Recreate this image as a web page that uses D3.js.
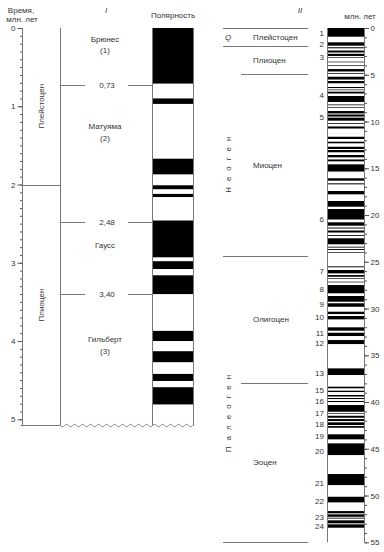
<!DOCTYPE html>
<html>
<head>
<meta charset="utf-8">
<script src="https://cdn.jsdelivr.net/npm/d3@7"></script>
<style>
  body { margin: 0; background: #fff; }
  text { font-family: "Liberation Sans", Arial, sans-serif; fill: #333; font-size: 8px; }
</style>
</head>
<body>
<script>
// ---- I: last 5 Ma, normal polarity intervals (black) ----
const leftNormStart = [0, 0.90, 1.67, 2.01, 2.12, 2.46, 2.98, 3.16, 3.87, 4.13, 4.42, 4.59];
const leftNormEnd   = [0.71, 0.97, 1.87, 2.06, 2.16, 2.93, 3.08, 3.40, 4.00, 4.27, 4.51, 4.81];
const leftBottom = 5.08;

const epochBounds = [0.73, 2.48, 3.40];
const epochBoundLabels = ["0,73", "2,48", "3,40"];
const epochNames = ["Брюнес", "Матуяма", "Гаусс", "Гильберт"];
const epochNums  = ["(1)", "(2)", "", "(3)"];
const epochNameAt = [0.14, 1.26, 2.77, 3.98];

const stages = ["Плейстоцен", "Плиоцен"];
const stageFrom = [0, 2];
const stageTo = [2, leftBottom];

// ---- II: 0-55 Ma, normal polarity intervals (black) ----
const rightNormStart = [
  0.00, 1.53, 2.06, 2.41, 2.76, 3.13, 3.60, 3.96, 4.39, 4.81, 5.21, 5.67, 6.31, 6.58, 6.81, 7.27, 8.18, 8.45, 8.88, 9.25, 9.59, 10.16, 10.53,
  11.63, 12.16, 12.70, 13.05, 13.58, 14.06, 14.58, 16.07, 16.61, 17.43, 18.50, 19.36, 20.78, 21.34, 21.66, 22.14, 22.49, 23.39, 23.64, 23.99,
  25.49, 25.88, 26.42, 26.77, 27.13, 27.49, 28.66, 29.44, 30.34, 30.80, 32.01, 32.59, 33.37, 36.40, 38.36, 38.79, 39.25,
  39.57, 39.89, 40.32, 41.21, 41.47, 41.82, 42.17, 42.57, 43.45, 44.42, 47.70, 50.13, 51.66, 52.01, 52.37, 52.65, 53.08
];
const rightNormEnd = [
  0.93, 1.89, 2.17, 2.62, 2.99, 3.20, 3.67, 4.03, 4.65, 4.89, 5.51, 5.91, 6.42, 6.65, 7.00, 7.91, 8.26, 8.52, 9.14, 9.47, 9.91, 10.24, 10.75,
  11.87, 12.33, 12.94, 13.29, 13.83, 14.26, 15.35, 16.33, 16.72, 17.79, 19.11, 20.48, 21.14, 21.44, 21.87, 22.23, 23.13, 23.48, 23.74, 24.06,
  25.59, 26.24, 26.60, 26.84, 27.20, 28.37, 29.27, 29.81, 30.59, 31.16, 32.37, 32.94, 33.80, 37.11, 38.53, 38.93, 39.41,
  39.68, 40.00, 41.04, 41.28, 41.68, 42.03, 42.46, 42.75, 43.99, 45.67, 48.88, 50.73, 51.90, 52.27, 52.46, 52.97, 53.44
];

const anomNum = ["1","2","3","4","5","6","7","8","9","10","11","12","13","15","16","17","18","19","20","21","22","23","24"];
const anomAt  = [0.57, 1.74, 3.07, 7.17, 9.49, 20.4, 26.0, 27.9, 29.55, 30.9, 32.6, 33.7, 36.9, 38.7, 39.9, 41.2, 42.4, 43.7, 45.3, 48.7, 50.6, 52.3, 53.3];

const rightBounds = [0, 1.93, 4.92, 24.4, 37.97, 55];
const rightBoundRank = ["era", "era", "epoch", "era", "epoch", "era"];
const epochs2 = ["Плейстоцен", "Плиоцен", "Миоцен", "Олигоцен", "Эоцен"];
const eras2 = ["Неоген", "Палеоген"];
const eras2At = [14.3, 40.9];

const svg = d3.select("body").append("svg")
  .attr("width", 384)
  .attr("height", 552);

// ================= left chart =================
const yL = d3.scaleLinear().domain([0, 5]).range([28, 419.3]);
const xAxisL = 22.5, xStage = 60.5, xPol0 = 152.5, xPol1 = 193.5;
const lineCol = "#777";

// polarity stripes
svg.append("g").selectAll("rect")
  .data(leftNormStart)
  .enter().append("rect")
  .attr("x", xPol0)
  .attr("width", xPol1 - xPol0)
  .attr("y", d => yL(d))
  .attr("height", (d, i) => yL(leftNormEnd[i]) - yL(d))
  .attr("fill", "#000");

// axes
const minorL = d3.range(0, 51).map(i => i / 10);
svg.append("g")
  .attr("transform", `translate(${xAxisL},0)`)
  .call(d3.axisLeft(yL).tickValues(minorL).tickSize(2.5).tickFormat(""))
  .call(g => g.select(".domain").remove());
svg.append("g")
  .attr("transform", `translate(${xAxisL},0)`)
  .call(d3.axisLeft(yL).tickValues([0, 1, 2, 3, 4, 5]).tickSize(5).tickPadding(2).tickFormat(d3.format("d")))
  .call(g => g.select(".domain").remove())
  .call(g => g.selectAll("text").style("font-size", "8px").attr("fill", "#333"));
svg.selectAll(".tick line").attr("stroke", "#555");

// vertical lines
[xAxisL, xStage, xPol0, xPol1].forEach(x => {
  svg.append("line")
    .attr("x1", x).attr("x2", x)
    .attr("y1", yL(0)).attr("y2", yL(leftBottom))
    .attr("stroke", lineCol).attr("stroke-width", 1);
});

// stage boundaries and labels
svg.append("line")
  .attr("x1", xAxisL).attr("x2", xStage)
  .attr("y1", Math.round(yL(2)) + 0.5).attr("y2", Math.round(yL(2)) + 0.5)
  .attr("stroke", lineCol);
svg.append("line")
  .attr("x1", xAxisL - 2).attr("x2", xStage)
  .attr("y1", yL(leftBottom)).attr("y2", yL(leftBottom))
  .attr("stroke", lineCol);
stages.forEach((s, i) => {
  const yc = (yL(stageFrom[i]) + yL(stageTo[i])) / 2;
  svg.append("text")
    .attr("transform", `translate(41,${yc}) rotate(-90)`)
    .attr("text-anchor", "middle")
    .attr("dy", "0.35em")
    .text(s);
});

// wavy bottom
const waveX = d3.range(xStage, xPol1 + 0.1, 1);
const wave = d3.line()
  .x(d => d)
  .y(d => yL(leftBottom) + 1.2 * Math.sin((d - xStage) / 8 * 2 * Math.PI));
svg.append("path")
  .attr("d", wave(waveX))
  .attr("fill", "none")
  .attr("stroke", lineCol);

// epoch boundaries
epochBounds.forEach((b, i) => {
  const y = Math.round(yL(b)) + 0.5;
  svg.append("line").attr("x1", xStage).attr("x2", 85).attr("y1", y).attr("y2", y).attr("stroke", lineCol);
  svg.append("line").attr("x1", 128).attr("x2", xPol0).attr("y1", y).attr("y2", y).attr("stroke", lineCol);
  svg.append("text")
    .attr("x", 107).attr("y", y)
    .attr("dy", "0.35em")
    .attr("text-anchor", "middle")
    .text(epochBoundLabels[i]);
});
epochNames.forEach((n, i) => {
  const y = yL(epochNameAt[i]);
  svg.append("text").attr("x", 105).attr("y", y).attr("dy", "0.35em")
    .attr("text-anchor", "middle").text(n);
  if (epochNums[i]) {
    svg.append("text").attr("x", 105).attr("y", y + 11.5).attr("dy", "0.35em")
      .attr("text-anchor", "middle").text(epochNums[i]);
  }
});

// headers
svg.append("text").attr("x", 21).attr("y", 10).attr("dy", "0.35em").attr("text-anchor", "middle").text("Время,");
svg.append("text").attr("x", 22).attr("y", 19.5).attr("dy", "0.35em").attr("text-anchor", "middle").text("млн. лет");
svg.append("text").attr("x", 106).attr("y", 10).attr("dy", "0.35em").attr("text-anchor", "middle")
  .style("font-style", "italic").text("I");
svg.append("text").attr("x", 173).attr("y", 15.5).attr("dy", "0.35em").attr("text-anchor", "middle").text("Полярность");

// ================= right chart =================
const yR = d3.scaleLinear().domain([0, 55]).range([28, 542.3]);
const xR0 = 327.5, xR1 = 364.5;

svg.append("g").selectAll("rect")
  .data(rightNormStart)
  .enter().append("rect")
  .attr("x", xR0)
  .attr("width", xR1 - xR0)
  .attr("y", d => yR(d))
  .attr("height", (d, i) => yR(rightNormEnd[i]) - yR(d))
  .attr("fill", "#000");

[xR0, xR1].forEach(x => {
  svg.append("line")
    .attr("x1", x).attr("x2", x)
    .attr("y1", yR(0)).attr("y2", yR(55))
    .attr("stroke", lineCol);
});

svg.append("g")
  .attr("transform", `translate(${xR1},0)`)
  .call(d3.axisRight(yR).tickValues(d3.range(0, 56)).tickSize(2.5).tickFormat(""))
  .call(g => g.select(".domain").remove());
svg.append("g")
  .attr("transform", `translate(${xR1},0)`)
  .call(d3.axisRight(yR).tickValues(d3.range(0, 56, 5)).tickSize(4.5).tickPadding(1.5).tickFormat(d3.format("d")))
  .call(g => g.select(".domain").remove())
  .call(g => g.selectAll("text").style("font-size", "8px").attr("fill", "#333"));
svg.selectAll(".tick line").attr("stroke", "#555");

// anomaly numbers
svg.append("g").selectAll("text")
  .data(anomNum)
  .enter().append("text")
  .attr("x", 324)
  .attr("y", (d, i) => yR(anomAt[i]))
  .attr("dy", "0.35em")
  .attr("text-anchor", "end")
  .text(d => d);

// stratigraphy
rightBounds.forEach((b, i) => {
  const y = Math.round(yR(b)) + 0.5;
  svg.append("line")
    .attr("x1", rightBoundRank[i] === "era" ? 223 : 241)
    .attr("x2", 308)
    .attr("y1", y).attr("y2", y)
    .attr("stroke", lineCol);
});
epochs2.forEach((e, i) => {
  svg.append("text")
    .attr("x", 253)
    .attr("y", yR((rightBounds[i] + rightBounds[i + 1]) / 2))
    .attr("dy", "0.35em")
    .text(e);
});
svg.append("text").attr("x", 225).attr("y", yR(0.96)).attr("dy", "0.35em")
  .style("font-style", "italic").text("Q");
eras2.forEach((e, i) => {
  svg.append("text")
    .attr("transform", `translate(228,${yR(eras2At[i])}) rotate(-90)`)
    .attr("text-anchor", "middle")
    .attr("dy", "0.35em")
    .style("letter-spacing", "6px")
    .text(e);
});

svg.append("text").attr("x", 300).attr("y", 10).attr("dy", "0.35em").attr("text-anchor", "middle")
  .style("font-style", "italic").text("II");
svg.append("text").attr("x", 360).attr("y", 16).attr("dy", "0.35em").attr("text-anchor", "middle").text("млн. лет");
</script>
</body>
</html>
